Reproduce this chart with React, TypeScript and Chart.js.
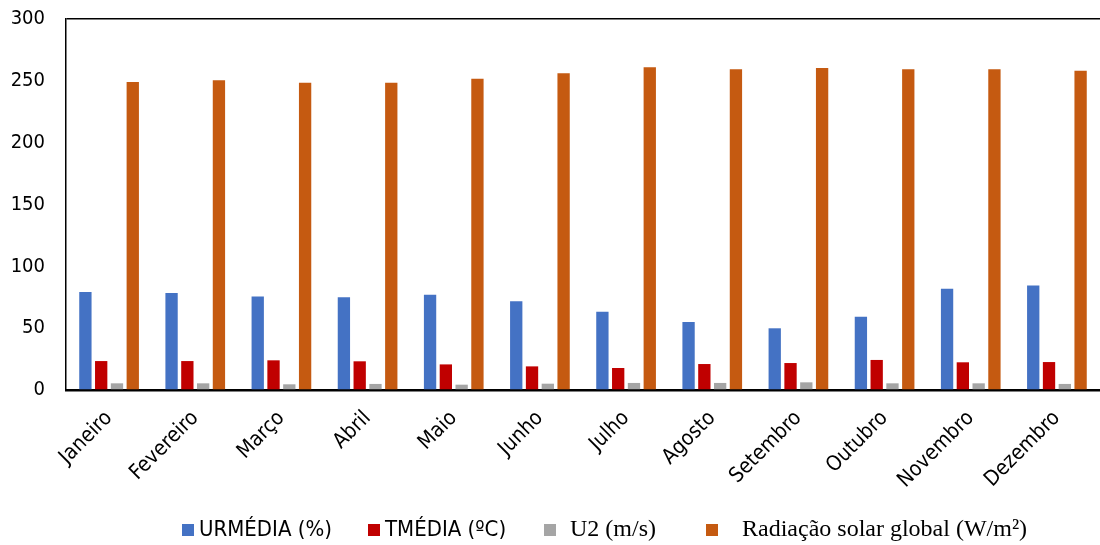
import React, { useEffect, useRef } from "react";
import { Chart, registerables } from "chart.js";

Chart.register(...registerables);

const months = [
  "Janeiro", "Fevereiro", "Março", "Abril", "Maio", "Junho",
  "Julho", "Agosto", "Setembro", "Outubro", "Novembro", "Dezembro",
];
const urMedia = [79.2, 78.4, 75.7, 75.0, 77.1, 71.7, 63.3, 55.0, 49.9, 59.3, 81.9, 84.6];
const tMedia = [23.4, 23.4, 24.0, 23.2, 20.7, 19.1, 17.8, 21.0, 21.8, 24.3, 22.4, 22.6];
const u2 = [5.4, 5.4, 4.6, 4.9, 4.3, 5.1, 5.7, 5.7, 6.2, 5.4, 5.4, 4.9];
const radiacao = [249.1, 250.4, 248.5, 248.5, 251.7, 256.1, 260.9, 259.3, 260.4, 259.3, 259.3, 258.2];

const seriesLabels = ["URMÉDIA (%)", "TMÉDIA (ºC)", "U2 (m/s)", "Radiação solar global (W/m²)"];
const seriesColors = ["#4472C4", "#C00000", "#A5A5A5", "#C55A11"];

const yMin = 0;
const yMax = 300;
const yStep = 50;

const SANS = '"DejaVu Sans Condensed", "DejaVu Sans", sans-serif';
const SERIF = '"Liberation Serif", "Times New Roman", serif';

const legendPlugin = {
  id: "customLegend",
  afterDraw(chart: any) {
    const ctx = chart.ctx as CanvasRenderingContext2D;
    const items = [
      { boxX: 182, textX: 199, font: `22px ${SANS}` },
      { boxX: 368, textX: 385, font: `22px ${SANS}` },
      { boxX: 544, textX: 570, font: `24px ${SERIF}` },
      { boxX: 706, textX: 742, font: `24px ${SERIF}` },
    ];
    ctx.save();
    items.forEach((it, i) => {
      ctx.fillStyle = seriesColors[i];
      ctx.fillRect(it.boxX, 524, 12, 12);
      ctx.fillStyle = "#000";
      ctx.font = it.font;
      ctx.textBaseline = "alphabetic";
      ctx.textAlign = "left";
      ctx.fillText(seriesLabels[i], it.textX, 536);
    });
    ctx.restore();
  },
};

export default function App() {
  const ref = useRef<HTMLCanvasElement | null>(null);

  useEffect(() => {
    if (!ref.current) return;
    const data = [urMedia, tMedia, u2, radiacao];
    const chart = new Chart(ref.current, {
      type: "bar",
      data: {
        labels: months,
        datasets: data.map((d, i) => ({
          label: seriesLabels[i],
          data: d,
          backgroundColor: seriesColors[i],
          borderWidth: 0,
          categoryPercentage: 0.733,
          barPercentage: 0.78,
        })),
      },
      options: {
        responsive: false,
        animation: false,
        layout: { padding: { top: 19, right: 0, bottom: 0, left: 0 } },
        plugins: {
          legend: { display: false },
          tooltip: { enabled: false },
        },
        scales: {
          x: {
            grid: { display: false, drawTicks: false },
            border: { display: true, color: "#000", width: 2.5 },
            ticks: {
              minRotation: 45,
              maxRotation: 45,
              padding: 16,
              color: "#000",
              font: { family: SANS, size: 21 },
            },
            afterFit: (s: any) => {
              s.height = 155;
              s.paddingTop = 0;
              s.paddingRight = 0;
            },
          },
          y: {
            min: yMin,
            max: yMax,
            ticks: {
              stepSize: yStep,
              padding: 21,
              color: "#000",
              font: { family: SANS, size: 20 },
            },
            grid: {
              drawTicks: false,
              color: (c: any) => (c.tick && c.tick.value === yMax ? "#000" : "rgba(0,0,0,0)"),
              lineWidth: 1.5,
            },
            border: { display: true, color: "#000", width: 1.5 },
            afterFit: (s: any) => {
              s.width = 66;
              s.paddingTop = 0;
              s.paddingBottom = 0;
            },
          },
        },
      },
      plugins: [legendPlugin],
    });
    return () => chart.destroy();
  }, []);

  return (
    <div style={{ position: "absolute", left: 0, top: 0, width: 1100, height: 545, background: "#fff" }}>
      <canvas ref={ref} width={1100} height={545} />
    </div>
  );
}
